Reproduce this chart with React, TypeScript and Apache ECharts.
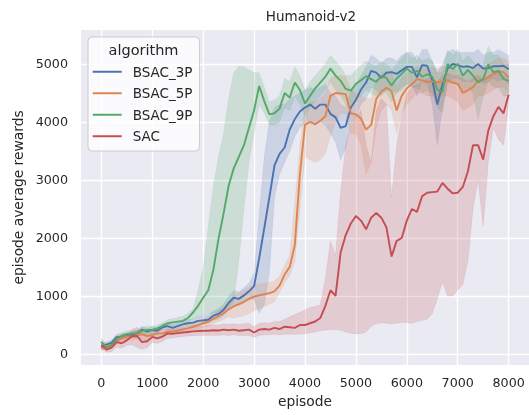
import React, { useEffect, useRef } from "react";
import * as echarts from "echarts";

const episodes = [
  0, 100, 200, 300, 400, 500, 600, 700, 800, 900, 1000, 1100, 1200, 1300, 1400, 1500, 1600, 1700, 1800, 1900,
  2000, 2100, 2200, 2300, 2400, 2500, 2600, 2700, 2800, 2900, 3000, 3100, 3200, 3300, 3400, 3500, 3600, 3700, 3800, 3900,
  4000, 4100, 4200, 4300, 4400, 4500, 4600, 4700, 4800, 4900, 5000, 5100, 5200, 5300, 5400, 5500, 5600, 5700, 5800, 5900,
  6000, 6100, 6200, 6300, 6400, 6500, 6600, 6700, 6800, 6900, 7000, 7100, 7200, 7300, 7400, 7500, 7600, 7700, 7800, 7900,
  8000,
];

const algorithms = ["BSAC_3P", "BSAC_5P", "BSAC_9P", "SAC"];
const xTicks = [0, 1000, 2000, 3000, 4000, 5000, 6000, 7000, 8000];
const yTicks = [0, 1000, 2000, 3000, 4000, 5000];

// BSAC_3P
const bsac3Mean = [
  130, 160, 190, 290, 300, 310, 330, 355, 420, 385, 414, 400, 460, 480, 450, 480, 510, 530, 540, 570,
  580, 590, 660, 690, 760, 880, 970, 950, 1010, 1080, 1170, 1650, 2170, 2700, 3250, 3450, 3560, 3870, 4050, 4180,
  4250, 4300, 4230, 4300, 4300, 4140, 4080, 3900, 3930, 4250, 4380, 4560, 4680, 4880, 4850, 4760, 4850, 4860, 4830, 4890,
  4950, 4950, 4770, 4980, 4970, 4720, 4300, 4650, 4920, 5000, 4980, 4950, 4960, 4930, 5000, 4920, 4930, 4960, 4960, 4970,
  4910,
];
const bsac3Low = [
  80, 110, 140, 240, 250, 260, 280, 300, 360, 330, 360, 340, 400, 420, 390, 420, 450, 470, 480, 500,
  510, 520, 580, 600, 660, 760, 850, 830, 880, 940, 950, 700, 850, 1400, 2700, 3100, 3300, 3500, 3750, 3900,
  3980, 4000, 3950, 4000, 3950, 3800, 3650, 3350, 3550, 3950, 4100, 4300, 4400, 4600, 4550, 4450, 4550, 4550, 4500, 4600,
  4650, 4650, 4450, 4700, 4650, 4300, 3600, 4250, 4650, 4750, 4750, 4700, 4700, 4700, 4750, 4650, 4700, 4750, 4700, 4750,
  4650,
];
const bsac3High = [
  180, 210, 240, 340, 350, 360, 380, 410, 480, 440, 470, 460, 520, 540, 510, 540, 570, 590, 600, 640,
  650, 670, 740, 780, 860, 990, 1090, 1070, 1140, 1220, 1400, 2400, 3400, 4000, 4250, 4300, 4300, 4400, 4450, 4500,
  4550, 4600, 4550, 4600, 4650, 4500, 4450, 4300, 4250, 4550, 4650, 4800, 4950, 5150, 5100, 5000, 5100, 5100, 5050, 5150,
  5200, 5200, 5050, 5250, 5250, 5050, 4850, 5000, 5200, 5250, 5200, 5200, 5200, 5200, 5250, 5150, 5200, 5200, 5250, 5200,
  5150,
];

// BSAC_5P
const bsac5Mean = [
  100, 130, 160, 220, 275, 300, 305, 330, 340, 310, 328, 356, 356, 385, 385, 400, 425, 445, 470, 495,
  530, 560, 605, 655, 700, 770, 820, 860, 900, 950, 990, 1010, 1030, 1050, 1080, 1180, 1370, 1500, 1880, 3100,
  3950, 4000, 3960, 4020, 4100, 4450, 4500, 4490, 4480, 4150, 4130, 4060, 3870, 3950, 4400, 4520, 4590, 4530, 4200, 4450,
  4580, 4650, 4740, 4720, 4690, 4700, 4680, 4700, 4720, 4680, 4660, 4500, 4550, 4600, 4720, 4720, 4770, 4820, 4870, 4860,
  4770,
];
const bsac5Low = [
  50, 80, 110, 170, 220, 240, 240, 260, 260, 220, 250, 290, 300, 330, 330, 350, 370, 390, 410, 430,
  460, 480, 520, 560, 590, 640, 620, 640, 660, 700, 740, 780, 820, 860, 900, 1060, 1230, 1350, 1600, 2500,
  3400, 3350, 3300, 3350, 3450, 3750, 4000, 4150, 4150, 3800, 3800, 3600, 3100, 3300, 3900, 4200, 4300, 4200, 3800, 4150,
  4300, 4400, 4500, 4500, 4450, 4450, 4400, 4450, 4450, 4400, 4350, 4200, 4250, 4300, 4450, 4450, 4500, 4550, 4600, 4600,
  4500,
];
const bsac5High = [
  150, 180, 210, 270, 330, 360, 370, 400, 420, 400, 410, 430, 420, 440, 440, 450, 480, 500, 530, 560,
  600, 640, 690, 750, 810, 900, 1000, 1050, 1100, 1150, 1200, 1200, 1220, 1230, 1260, 1340, 1530, 1700, 2600, 3600,
  4250, 4350, 4350, 4400, 4500, 4750, 4800, 4800, 4780, 4550, 4500, 4450, 4400, 4400, 4750, 4850, 4880, 4850, 4600, 4750,
  4850, 4900, 4950, 4950, 4920, 4950, 4920, 4950, 4950, 4920, 4900, 4800, 4850, 4900, 4950, 4950, 5000, 5050, 5100, 5100,
  5050,
];

// BSAC_9P
const bsac9Mean = [
  210, 115, 150, 260, 310, 340, 355, 355, 400, 414, 420, 440, 480, 530, 545, 558, 570, 620, 715, 830,
  970, 1100, 1450, 1980, 2420, 2900, 3200, 3400, 3600, 3900, 4200, 4620, 4360, 4130, 4150, 4230, 4500, 4420, 4680, 4550,
  4320, 4450, 4580, 4680, 4780, 4920, 4800, 4710, 4570, 4540, 4660, 4720, 4790, 4740, 4690, 4790, 4760, 4630, 4750, 4830,
  4920, 4850, 4880, 4780, 4820, 4780, 4560, 4520, 5000, 4910, 5000, 4800, 4900, 4800, 4680, 4740, 4990, 4860, 4880, 4740,
  4710,
];
const bsac9Low = [
  150, 60, 100, 200, 250, 280, 300, 300, 340, 350, 360, 380, 420, 470, 480, 490, 510, 550, 600, 640,
  660, 690, 700, 720, 760, 800, 900, 1600, 2500, 3300, 3800, 4300, 4150, 3950, 3950, 4000, 4250, 4200, 4450, 4300,
  4100, 4250, 4350, 4450, 4550, 4700, 4550, 4450, 4300, 4300, 4400, 4450, 4550, 4500, 4450, 4550, 4500, 4350, 4500, 4550,
  4650, 4600, 4600, 4500, 4550, 4500, 4250, 4150, 4700, 4650, 4700, 4500, 4600, 4500, 4050, 4450, 4700, 4600, 4600, 4450,
  4450,
];
const bsac9High = [
  270, 170, 230, 320, 370, 400, 410, 410, 460, 480, 480, 500, 540, 590, 610, 630, 650, 700, 780, 1100,
  1500, 2200, 2900, 3400, 3800, 4400, 4850, 4960, 4950, 4900, 4850, 4850, 4600, 4350, 4380, 4450, 4750, 4700, 4950, 4800,
  4550, 4700, 4800, 4900, 5000, 5150, 5050, 4950, 4800, 4800, 4900, 4980, 5050, 5000, 4950, 5050, 5000, 4900, 5000, 5100,
  5200, 5100, 5150, 5050, 5100, 5050, 4850, 4850, 5250, 5150, 5250, 5050, 5150, 5050, 4950, 5000, 5300, 5150, 5150, 5000,
  5000,
];

// SAC
const sacMean = [
  150, 75, 110, 205, 185, 235, 305, 310, 205, 220, 295, 270, 300, 355, 350, 360, 370, 380, 390, 395,
  400, 400, 410, 405, 420, 410, 420, 400, 410, 420, 370, 420, 430, 420, 450, 430, 470, 460, 450, 500,
  500, 530, 560, 620, 830, 1100, 1000, 1750, 2050, 2250, 2380, 2300, 2150, 2350, 2430, 2350, 2180, 1680, 1950, 2000,
  2300, 2500, 2450, 2720, 2780, 2790, 2800, 2950, 2850, 2770, 2780, 2880, 3150, 3600, 3600, 3350, 3850, 4100, 4260, 4150,
  4470,
];
const sacLow = [
  90, 30, 40, 120, 100, 150, 160, 110, 80, 110, 200, 180, 220, 270, 280, 290, 300, 310, 310, 320,
  320, 320, 320, 320, 330, 320, 330, 320, 320, 320, 290, 320, 330, 330, 340, 330, 340, 340, 340, 345,
  350, 360, 380, 400, 410, 420, 420, 410, 380, 360, 345, 350, 380, 480, 520, 540, 530, 520, 530, 545,
  540, 530, 560, 580, 600, 700, 950, 1250, 1000, 1000, 1100, 1200, 1600, 2500, 3000, 2200, 3300, 3900, 3700, 3600,
  4280,
];
const sacHigh = [
  220, 130, 170, 280, 270, 320, 420, 460, 350, 320, 370, 340, 370, 430, 420, 430, 440, 450, 460, 470,
  480, 490, 500, 500, 520, 510, 520, 510, 520, 530, 470, 530, 540, 530, 560, 560, 600, 640, 680, 720,
  760, 800, 820, 850, 1300, 1950, 1700, 2800, 3600, 3900, 4100, 4200, 3600, 3300, 4200, 4400, 4300, 2700, 3600, 4100,
  4500, 4600, 4650, 4700, 4750, 4750, 4700, 4800, 4850, 4800, 4800, 4750, 4700, 4750, 4800, 4750, 4800, 4850, 4850, 4800,
  4750,
];

const meanSets = [bsac3Mean, bsac5Mean, bsac9Mean, sacMean];
const lowSets = [bsac3Low, bsac5Low, bsac9Low, sacLow];
const highSets = [bsac3High, bsac5High, bsac9High, sacHigh];
const colors = ["#4C72B0", "#DD8452", "#55A868", "#C44E52"];

const FONT = "DejaVu Sans";
const TEXT = "#262626";

function hexToRgba(hex: string, a: number) {
  const n = parseInt(hex.slice(1), 16);
  return `rgba(${(n >> 16) & 255},${(n >> 8) & 255},${n & 255},${a})`;
}

export default function App() {
  const ref = useRef<HTMLDivElement>(null);

  useEffect(() => {
    if (!ref.current) return;
    const chart = echarts.init(ref.current, undefined, { renderer: "svg" });

    const series: any[] = [];
    algorithms.forEach((name, k) => {
      const mean = meanSets[k];
      const lo = lowSets[k];
      const hi = highSets[k];
      const bandData = episodes.map((e, i) => [e, lo[i], hi[i]]);
      series.push({
        name,
        type: "line",
        data: episodes.map((e, i) => [e, mean[i]]),
        symbol: "none",
        showSymbol: false,
        lineStyle: { color: colors[k], width: 1.9 },
        itemStyle: { color: colors[k] },
        z: 2,
      });
      series.push({
        name: name + "_band",
        type: "custom",
        silent: true,
        data: bandData,
        encode: { x: 0, y: [1, 2] },
        z: 2,
        renderItem: (params: any, api: any) => {
          if (params.dataIndex !== 0) return null;
          const upper = bandData.map((d) => api.coord([d[0], d[2]]));
          const lower = bandData.map((d) => api.coord([d[0], d[1]])).reverse();
          return {
            type: "polygon",
            shape: { points: upper.concat(lower) },
            style: {
              fill: hexToRgba(colors[k], 0.2),
              stroke: hexToRgba(colors[k], 0.12),
              lineWidth: 0.8,
            },
          };
        },
      });
    });

    chart.setOption({
      animation: false,
      textStyle: { fontFamily: FONT },
      title: {
        text: "Humanoid-v2",
        left: 306,
        textAlign: "center",
        top: 4,
        textStyle: { fontFamily: FONT, fontSize: 13.5, fontWeight: "normal", color: TEXT },
      },
      grid: { left: 81, top: 30, width: 452, height: 335, backgroundColor: "#EAEAF2", show: true, borderWidth: 0 },
      xAxis: {
        type: "value",
        min: -400,
        max: 8400,
        minInterval: xTicks[1] - xTicks[0],
        maxInterval: xTicks[1] - xTicks[0],
        name: "episode",
        nameLocation: "middle",
        nameGap: 28,
        nameTextStyle: { fontFamily: FONT, fontSize: 13.8, color: TEXT },
        axisLine: { show: false },
        axisTick: { show: false },
        axisLabel: {
          showMinLabel: false,
          showMaxLabel: false,
          margin: 11,
          fontFamily: FONT,
          fontSize: 12.7,
          color: TEXT,
          formatter: (v: number) => String(v),
        },
        splitLine: { show: true, showMinLine: false, showMaxLine: false, lineStyle: { color: "#FFFFFF", width: 1.3 } },
      },
      yAxis: {
        type: "value",
        min: -190,
        max: 5586,
        minInterval: yTicks[1] - yTicks[0],
        maxInterval: yTicks[1] - yTicks[0],
        name: "episode average rewards",
        nameLocation: "middle",
        nameRotate: 90,
        nameGap: 50,
        nameTextStyle: { fontFamily: FONT, fontSize: 13.8, color: TEXT },
        axisLine: { show: false },
        axisTick: { show: false },
        axisLabel: {
          showMinLabel: false,
          showMaxLabel: false,
          margin: 13,
          fontFamily: FONT,
          fontSize: 12.7,
          color: TEXT,
          formatter: (v: number) => String(v),
        },
        splitLine: { show: true, showMinLine: false, showMaxLine: false, lineStyle: { color: "#FFFFFF", width: 1.3 } },
      },
      legend: {
        data: algorithms,
        orient: "vertical",
        left: 88,
        top: 37,
        padding: [24, 7, 4, 4.7],
        itemGap: 0,
        itemWidth: 29,
        itemHeight: 2,
        icon: "rect",
        backgroundColor: "rgba(255,255,255,0.8)",
        borderColor: "#CCCCCC",
        borderWidth: 1,
        borderRadius: 4,
        selectedMode: false,
        textStyle: { fontFamily: FONT, fontSize: 13.5, color: TEXT, lineHeight: 21.5, padding: [0, 0, 0, 6] },
        z: 10,
      },
      graphic: [
        {
          type: "text",
          x: 143.5,
          y: 49.5,
          z: 100,
          style: {
            text: "algorithm",
            fontFamily: FONT,
            fontSize: 14.5,
            fill: TEXT,
            textAlign: "center",
            textVerticalAlign: "middle",
          },
        },
      ],
      series,
    });

    return () => chart.dispose();
  }, []);

  return <div ref={ref} style={{ position: "fixed", left: 0, top: 0, width: 529, height: 415 }} />;
}
